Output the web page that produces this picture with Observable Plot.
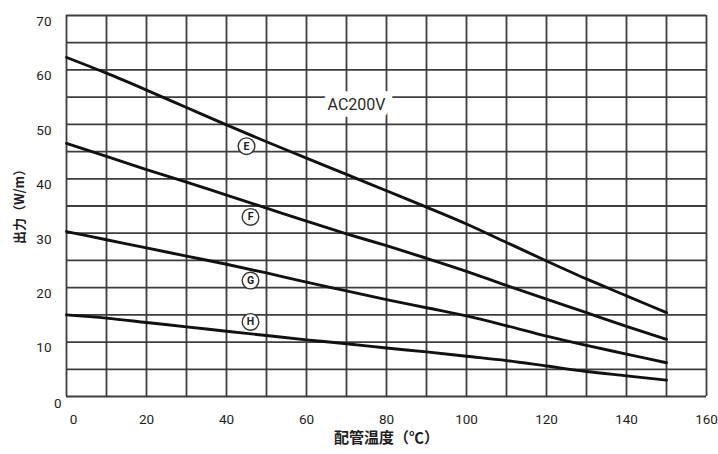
<!DOCTYPE html>
<html>
<head>
<meta charset="utf-8">
<script src="https://cdn.jsdelivr.net/npm/d3@7"></script>
<script src="https://cdn.jsdelivr.net/npm/@observablehq/plot@0.6"></script>
<style>
  html, body { margin: 0; padding: 0; background: #fff; }
  #chart svg { display: block; }
</style>
</head>
<body>
<div id="chart"></div>
<script>
// Pipe temperature (°C) at which each output curve is sampled
const temps = [0, 10, 20, 30, 40, 50, 60, 70, 80, 90, 100, 110, 120, 130, 140, 150];

// Output (W/m) of each heater type at AC200V
const outE = [62.3, 59.4, 56.3, 53.1, 49.9, 46.8, 43.8, 40.8, 37.8, 34.8, 31.7, 28.3, 24.9, 21.6, 18.5, 15.4];
const outF = [46.5, 44.1, 41.7, 39.4, 37.0, 34.6, 32.2, 29.9, 27.7, 25.4, 23.0, 20.4, 17.9, 15.4, 12.9, 10.5];
const outG = [30.3, 28.8, 27.3, 25.8, 24.3, 22.7, 21.0, 19.4, 17.8, 16.3, 14.8, 13.0, 11.1, 9.4, 7.8, 6.2];
const outH = [15.0, 14.4, 13.6, 12.8, 12.0, 11.2, 10.4, 9.7, 8.9, 8.2, 7.4, 6.6, 5.6, 4.6, 3.8, 3.0];

// Curve names and where their circled tags sit (in data units)
const curveNames = ["E", "F", "G", "H"];
const tagTemp = [45, 46, 46, 46];
const tagOut = [46.0, 33.0, 21.3, 13.7];

// Axis ticks and grid
const xTicks = [0, 20, 40, 60, 80, 100, 120, 140, 160];
const yTicks = [0, 10, 20, 30, 40, 50, 60, 70];
const xGrid = [0, 10, 20, 30, 40, 50, 60, 70, 80, 90, 100, 110, 120, 130, 140, 150, 160];
const yGrid = [0, 5, 10, 15, 20, 25, 30, 35, 40, 45, 50, 55, 60, 65, 70];

// Text
const voltageLabel = "AC200V";
const voltageTemp = 72.5;
const voltageOut = 53.6;
const xTitle = "配管温度（℃）";
const yTitle = "出力（W/m）";
const yTitleAt = 28;

const series = [outE, outF, outG, outH];
const rows = curveNames.flatMap((name, i) =>
  temps.map((t, j) => ({curve: name, temp: t, out: series[i][j]}))
);
const tags = curveNames.map((name, i) => ({curve: name, temp: tagTemp[i], out: tagOut[i]}));

const gridColor = "#3d3d3d";
const inkColor = "#1e1e1e";
const cjk = "'Noto Sans CJK JP', sans-serif";

const chart = Plot.plot({
  width: 718,
  height: 454,
  marginLeft: 66,
  marginRight: 12,
  marginTop: 15,
  marginBottom: 58,
  x: {domain: [0, 160], axis: null},
  y: {domain: [0, 70], axis: null},
  style: {fontFamily: "Roboto, sans-serif", background: "#fff", color: inkColor},
  marks: [
    Plot.ruleX(xGrid, {x: d => d, stroke: gridColor, strokeWidth: 1.8}),
    Plot.ruleY(yGrid, {y: d => d, stroke: gridColor, strokeWidth: 1.8}),
    Plot.line(rows, {x: "temp", y: "out", z: "curve", curve: "monotone-x", stroke: "#111", strokeWidth: 2.9}),
    // voltage label, with a white halo that breaks the grid behind it
    Plot.text([voltageLabel], {
      x: () => voltageTemp, y: () => voltageOut, text: d => d,
      fontSize: 16, fill: "#2a2a2a", stroke: "white", strokeWidth: 14
    }),
    // circled curve tags
    Plot.dot(tags, {x: "temp", y: "out", r: 8.3, fill: "white", stroke: "#333", strokeWidth: 1.4}),
    Plot.text(tags, {x: "temp", y: "out", text: "curve", fontSize: 10.5, fontWeight: "bold", fill: "#222"}),
    // x tick labels
    Plot.text(xTicks.filter(d => d > 0), {x: d => d, text: d => String(d), frameAnchor: "bottom", dy: 27, fontSize: 13.5, fill: inkColor}),
    Plot.text(xTicks.filter(d => d === 0), {x: d => d, text: d => String(d), frameAnchor: "bottom", dy: 27, dx: 7, fontSize: 13.5, fill: inkColor}),
    // y tick labels
    Plot.text(yTicks.filter(d => d > 0), {y: d => d, text: d => String(d), frameAnchor: "left", dx: -15, dy: 6, textAnchor: "end", fontSize: 13.5, fill: inkColor}),
    Plot.text(yTicks.filter(d => d === 0), {y: d => d, text: d => String(d), frameAnchor: "left", dx: -5, dy: 7, textAnchor: "end", fontSize: 13.5, fill: inkColor}),
    // axis titles
    Plot.text([xTitle], {text: d => d, frameAnchor: "bottom", dy: 46, fontSize: 15, fontWeight: "bold", fontFamily: cjk, fill: inkColor}),
    Plot.text([yTitle], {y: () => yTitleAt, text: d => d, frameAnchor: "left", dx: -47, rotate: -90, fontSize: 13, fontWeight: "bold", fontFamily: cjk, fill: inkColor})
  ]
});

document.getElementById("chart").appendChild(chart);
</script>
</body>
</html>
